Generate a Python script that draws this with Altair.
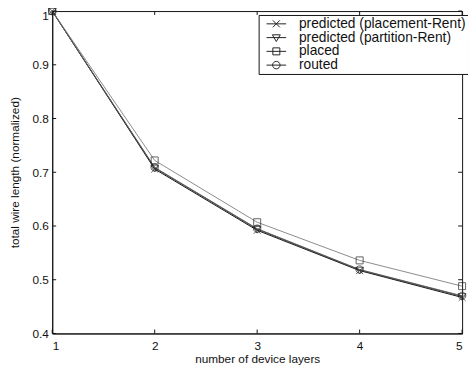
import altair as alt
import pandas as pd

layers = [1, 2, 3, 4, 5]
series_names = ["predicted (placement-Rent)", "predicted (partition-Rent)", "placed", "routed"]
placement_rent = [1.0, 0.706, 0.592, 0.517, 0.467]
partition_rent = [1.0, 0.708, 0.594, 0.518, 0.469]
placed = [1.0, 0.722, 0.607, 0.536, 0.488]
routed = [1.0, 0.709, 0.595, 0.519, 0.470]
y_ticks = [0.4, 0.5, 0.6, 0.7, 0.8, 0.9, 1.0]

values = [placement_rent, partition_rent, placed, routed]
rows = []
for name, vals in zip(series_names, values):
    for x, v in zip(layers, vals):
        rows.append({"layers": x, "length": v, "series": name})
df = pd.DataFrame(rows)
xt = pd.DataFrame({"layers": layers})
yt = pd.DataFrame({"length": y_ticks})

line_colors = ["#111111", "#3a3a3a", "#8a8a8a", "#5a5a5a"]
marker_paths = [
    "M-0.75,-0.75L0.75,0.75M-0.75,0.75L0.75,-0.75",
    "M-0.85,-0.6L0.85,-0.6L0,0.85Z",
    "M-0.75,-0.75L0.75,-0.75L0.75,0.75L-0.75,0.75Z",
    "M0.8,0A0.8,0.8,0,1,1,-0.8,0A0.8,0.8,0,1,1,0.8,0",
]
legend_paths = ["M-2.1,0L2.1,0" + p for p in marker_paths]

FONT = "Liberation Sans"
INK = "#111111"

xscale = alt.Scale(domain=[1, 5], nice=False)
yscale = alt.Scale(domain=[0.4, 1.0], nice=False)

x_enc = alt.X("layers:Q", scale=xscale,
              axis=alt.Axis(values=layers, title="number of device layers", format="d",
                            grid=False, tickSize=0, labelPadding=7, titlePadding=3))
y_enc = alt.Y("length:Q", scale=yscale,
              axis=alt.Axis(values=y_ticks,
                            labelExpr="datum.value == 1 ? '1' : format(datum.value, '.1f')",
                            labelBaseline=alt.condition("datum.value == 1", alt.value("top"), alt.value("middle")),
                            title="total wire length (normalized)", grid=False,
                            tickSize=0, labelPadding=4, titlePadding=11))

lines = alt.Chart(df).mark_line(strokeWidth=1).encode(
    x=x_enc, y=y_enc,
    color=alt.Color("series:N", scale=alt.Scale(domain=series_names, range=line_colors), legend=None),
    detail="series:N",
)

markers = alt.Chart(df).mark_point(filled=False, size=90, strokeWidth=1, color="#222222").encode(
    x=alt.X("layers:Q", scale=xscale), y=alt.Y("length:Q", scale=yscale),
    shape=alt.Shape("series:N", scale=alt.Scale(domain=series_names, range=marker_paths), legend=None),
)

legend_layer = alt.Chart(df).mark_point(filled=False, size=90, opacity=0, color=INK).encode(
    x=alt.X("layers:Q", scale=xscale), y=alt.Y("length:Q", scale=yscale),
    shape=alt.Shape("series:N", scale=alt.Scale(domain=series_names, range=legend_paths),
                    legend=alt.Legend(title=None, orient="none", legendX=210, legendY=4,
                                      symbolOpacity=1, symbolStrokeColor="#222222",
                                      symbolStrokeWidth=1, symbolSize=90,
                                      labelFont=FONT, labelFontSize=14, labelColor=INK,
                                      strokeColor=INK, fillColor="white",
                                      padding=2, rowPadding=0, labelOffset=16,
                                      symbolOffset=9, labelLimit=300)),
)

tick_len = 4
left_ticks = alt.Chart(yt).mark_rule(color=INK, x2Offset=tick_len).encode(
    x=alt.datum(1, scale=xscale), x2=alt.datum(1), y=alt.Y("length:Q", scale=yscale))
right_ticks = alt.Chart(yt).mark_rule(color=INK, x2Offset=-tick_len).encode(
    x=alt.datum(5, scale=xscale), x2=alt.datum(5), y=alt.Y("length:Q", scale=yscale))
bottom_ticks = alt.Chart(xt).mark_rule(color=INK, y2Offset=-tick_len).encode(
    y=alt.datum(0.4, scale=yscale), y2=alt.datum(0.4), x=alt.X("layers:Q", scale=xscale))
top_ticks = alt.Chart(xt).mark_rule(color=INK, y2Offset=tick_len).encode(
    y=alt.datum(1.0, scale=yscale), y2=alt.datum(1.0), x=alt.X("layers:Q", scale=xscale))

chart = alt.layer(lines, left_ticks, right_ticks, bottom_ticks, top_ticks, markers, legend_layer).resolve_scale(
    shape="independent"
).properties(
    width=417, height=328,
    autosize=alt.AutoSizeParams(type="none"),
    padding={"left": 45, "top": 0, "right": 6, "bottom": 30},
).configure_view(stroke=INK, strokeWidth=1).configure_axis(
    domainColor=INK, tickColor=INK, labelColor=INK, titleColor=INK,
    labelFont=FONT, titleFont=FONT, labelFontSize=12, titleFontSize=12,
    titleFontWeight="normal",
)

chart.save("out.html", embed_options={"renderer": "svg", "actions": False})
